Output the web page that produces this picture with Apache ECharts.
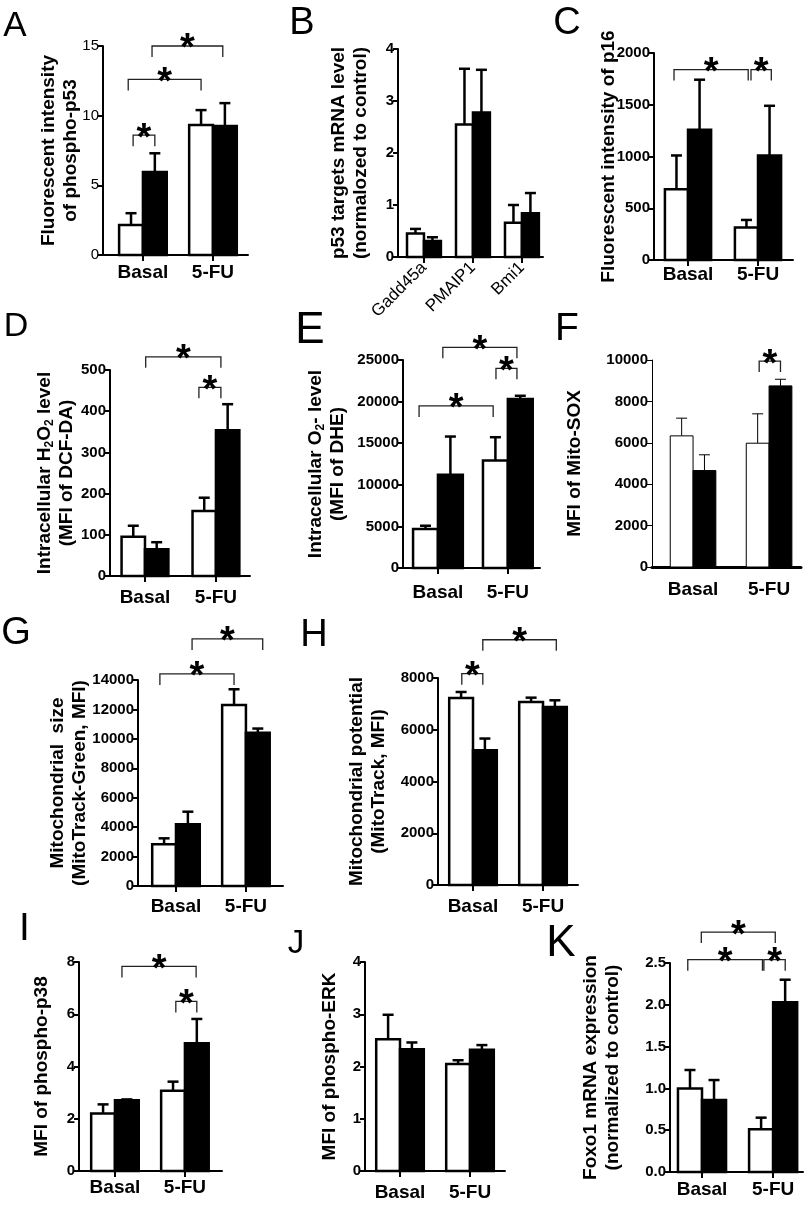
<!DOCTYPE html>
<html>
<head>
<meta charset="utf-8">
<title>p53 / ROS / mitochondria panels</title>
<script src="https://cdn.jsdelivr.net/npm/echarts@6/dist/echarts.min.js"></script>
<style>
  html, body { margin: 0; padding: 0; background: #fff; }
  #fig { width: 812px; height: 1211px; }
</style>
</head>
<body>
<div id="fig"></div>
<script>
// categories
const groups = ['Basal', '5-FU'];
const genes = ['Gadd45a', 'PMAIP1', 'Bmi1'];

// each *Mean / *Sem is [white bars, black bars], one value per category
// *Sig = significance brackets [x from, x to, y] in axis units

// A - phospho-p53
const p53Mean = [[2.15, 9.33], [5.96, 9.26]];
const p53Sem = [[0.85, 1.07], [1.34, 1.64]];
const p53Sig = [[0.86, 1.17, 8.6], [0.79, 1.83, 12.6], [1.13, 2.14, 15.0]];

// B - p53 targets mRNA
const targetsMean = [[0.45, 2.55, 0.66], [0.31, 2.78, 0.84]];
const targetsSem = [[0.09, 1.07, 0.34], [0.07, 0.82, 0.39]];
const targetsSig = [];

// C - p16
const p16Mean = [[684, 313], [1258, 1010]];
const p16Sem = [[326, 74], [484, 480]];
const p16Sig = [[0.8, 1.86, 1840], [1.9, 2.19, 1840]];

// D - H2O2
const h2o2Mean = [[95, 158], [65, 354]];
const h2o2Sem = [[27, 32], [17, 63]];
const h2o2Sig = [[1.01, 2.07, 532], [1.76, 2.07, 458]];

// E - O2-
const o2Mean = [[4680, 12920], [11200, 20300]];
const o2Sem = [[400, 2800], [4600, 400]];
const o2Sig = [[0.73, 1.79, 19480], [1.07, 2.13, 26520], [1.83, 2.13, 24000]];

// F - Mito-SOX
const soxMean = [[6335, 5980], [4660, 8750]];
const soxSem = [[855, 1420], [760, 320]];
const soxSig = [[1.87, 2.15, 9950]];

// G - mitochondrial size
const sizeMean = [[2830, 12300], [4190, 10420]];
const sizeSem = [[410, 1070], [860, 280]];
const sizeSig = [[0.77, 1.83, 14410], [1.23, 2.24, 16790]];

// H - mitochondrial potential
const potMean = [[7228, 7074], [5209, 6881]];
const potSem = [[232, 166], [451, 257]];
const potSig = [[0.84, 1.14, 8167], [1.14, 2.19, 9479]];

// I - phospho-p38
const p38Mean = [[2.2, 3.07], [2.71, 4.89]];
const p38Sem = [[0.35, 0.35], [0.03, 0.93]];
const p38Sig = [[1.1, 2.16, 7.83], [1.87, 2.17, 6.49]];

// J - phospho-ERK
const erkMean = [[2.52, 2.05], [2.33, 2.32]];
const erkSem = [[0.47, 0.07], [0.13, 0.09]];
const erkSig = [];

// K - Foxo1 mRNA
const foxoMean = [[1.0, 0.51], [0.86, 2.03]];
const foxoSem = [[0.22, 0.14], [0.24, 0.27]];
const foxoSig = [[0.8, 1.85, 2.54], [0.99, 2.03, 2.87], [1.87, 2.17, 2.54]];

const FONT = '"Liberation Sans", Arial, sans-serif';

// layout of each panel (pixels) + axis ranges
const panels = [
  {tag: 'A', tx: 15, ty: 26, ts: 35, left: 103, top: 46, right: 248, bottom: 255, xMin: 0.43, xMax: 2.5, hw: 0.17,
    cats: groups, mean: p53Mean, sem: p53Sem, sig: p53Sig, yMax: 15, step: 5, tickBold: false,
    title: 'Fluorescent intensity\nof phospho-p53', gap: 21.5, margin: 8},
  {tag: 'B', tx: 302, ty: 24, ts: 38, left: 398, top: 49, right: 543, bottom: 257, xMin: 0.47, xMax: 3.43, hw: 0.173,
    cats: genes, mean: targetsMean, sem: targetsSem, sig: targetsSig, yMax: 4, step: 1, rotate: 45,
    title: 'p53 targets mRNA level\n(normalozed to control)', gap: 26.5, margin: 8},
  {tag: 'C', tx: 567, ty: 24, ts: 38, left: 654, top: 53, right: 793, bottom: 260, xMin: 0.514, xMax: 2.5, hw: 0.165,
    cats: groups, mean: p16Mean, sem: p16Sem, sig: p16Sig, yMax: 2000, step: 500,
    title: 'Fluorescent intensity of p16', gap: 34, margin: 5},
  {tag: 'D', tx: 16, ty: 327, ts: 34, left: 110, top: 370, right: 250, bottom: 576, xMin: 0.507, xMax: 2.48, hw: 0.165,
    cats: groups, mean: h2o2Mean, sem: h2o2Sem, sig: h2o2Sig, yMax: 500, step: 100,
    title: '{t|Intracellular H}{s|2}{t|O}{s|2}{t| level}\n{t|(MFI of DCF-DA)}', gap: 32.5, margin: 12},
  {tag: 'E', tx: 310, ty: 331, ts: 44, left: 403, top: 360, right: 540, bottom: 568, xMin: 0.5, xMax: 2.46, hw: 0.178,
    cats: groups, mean: o2Mean, sem: o2Sem, sig: o2Sig, yMax: 25000, step: 5000,
    title: '{t|Intracellular O}{s|2}{t|- level}\n{t|(MFI of DHE)}', gap: 54.5, margin: 15},
  {tag: 'F', tx: 567, ty: 329, ts: 39, left: 652, top: 360, right: 801, bottom: 567, xMin: 0.46, xMax: 2.42, hw: 0.15,
    cats: groups, mean: soxMean, sem: soxSem, sig: soxSig, yMax: 10000, step: 2000, thin: true,
    title: 'MFI of Mito-SOX', gap: 66, margin: 13},
  {tag: 'G', tx: 16, ty: 634, ts: 38, left: 138, top: 680, right: 283, bottom: 886, xMin: 0.457, xMax: 2.53, hw: 0.17,
    cats: groups, mean: sizeMean, sem: sizeSem, sig: sizeSig, yMax: 14000, step: 2000,
    title: 'Mitochondrial  size\n(MitoTrack-Green, MFI)', gap: 47.5, margin: 11},
  {tag: 'H', tx: 314, ty: 636, ts: 38, left: 438, top: 678, right: 578, bottom: 885, xMin: 0.5, xMax: 2.5, hw: 0.17,
    cats: groups, mean: potMean, sem: potSem, sig: potSig, yMax: 8000, step: 2000,
    title: 'Mitochondrial potential\n(MitoTrack, MFI)', gap: 48.5, margin: 12},
  {tag: 'I', tx: 24.5, ty: 929, ts: 39, left: 79, top: 962, right: 222, bottom: 1171, xMin: 0.486, xMax: 2.53, hw: 0.17,
    cats: groups, mean: p38Mean, sem: p38Sem, sig: p38Sig, yMax: 8, step: 2,
    title: 'MFI of phospho-p38', gap: 26, margin: 7},
  {tag: 'J', tx: 296, ty: 944, ts: 33, left: 365, top: 962, right: 505, bottom: 1171, xMin: 0.5, xMax: 2.5, hw: 0.17,
    cats: groups, mean: erkMean, sem: erkSem, sig: erkSig, yMax: 4, step: 1,
    title: 'MFI of phospho-ERK', gap: 24, margin: 12},
  {tag: 'K', tx: 561, ty: 944, ts: 44, left: 670, top: 963, right: 803, bottom: 1172, xMin: 0.55, xMax: 2.42, hw: 0.169,
    cats: groups, mean: foxoMean, sem: foxoSem, sig: foxoSig, yMax: 2.5, step: 0.5, decimals: 1,
    title: 'Foxo1 mRNA expression\n(normalized to control)', gap: 46, margin: 8}
];

const titleRich = {
  t: {fontFamily: FONT, fontWeight: 'bold', fontSize: 19, lineHeight: 22, color: '#000'},
  s: {fontFamily: FONT, fontWeight: 'bold', fontSize: 12, lineHeight: 12, verticalAlign: 'bottom', color: '#000'}
};

function barRenderer(p) {
  return function (params, api) {
    const x = api.value(0), v = api.value(1), e = api.value(2), dark = api.value(3);
    const lo = api.coord([x - p.hw, 0]);
    const hi = api.coord([x + p.hw, v]);
    const mid = api.coord([x, v]);
    const top = api.coord([x, v + e]);
    const lw = p.thin ? 1 : 2.5;
    const cap = 5.5;
    return {
      type: 'group',
      children: [
        {type: 'line', shape: {x1: mid[0], y1: mid[1], x2: top[0], y2: top[1]}, style: {stroke: '#000', lineWidth: lw}},
        {type: 'line', shape: {x1: top[0] - cap, y1: top[1], x2: top[0] + cap, y2: top[1]}, style: {stroke: '#000', lineWidth: lw}},
        {type: 'rect', shape: {x: lo[0], y: hi[1], width: hi[0] - lo[0], height: lo[1] - hi[1]},
          style: {fill: dark ? '#000' : '#fff', stroke: '#000', lineWidth: lw}}
      ]
    };
  };
}

function bracketRenderer(params, api) {
  const a = api.coord([api.value(0), api.value(2)]);
  const b = api.coord([api.value(1), api.value(2)]);
  const drop = 11;
  return {
    type: 'group',
    children: [
      {type: 'polyline', shape: {points: [[a[0], a[1] + drop], [a[0], a[1]], [b[0], b[1]], [b[0], b[1] + drop]]},
        style: {stroke: '#222', lineWidth: 1.3, fill: 'none'}},
      {type: 'text', x: (a[0] + b[0]) / 2, y: a[1] + 4,
        style: {text: '*', fontFamily: FONT, fontWeight: 'bold', fontSize: 38, fill: '#000', align: 'center', verticalAlign: 'middle'}}
    ]
  };
}

const grid = [], xAxis = [], yAxis = [], series = [], graphic = [];

panels.forEach(function (p, i) {
  grid.push({left: p.left, top: p.top, width: p.right - p.left, height: p.bottom - p.top,
    containLabel: false, outerBoundsMode: 'none'});

  const catPos = p.cats.map((c, k) => k + 1);
  xAxis.push({
    gridIndex: i, type: 'value', min: p.xMin, max: p.xMax,
    axisLine: {show: true, onZero: false, lineStyle: {color: '#000', width: p.thin ? 3 : 2}},
    axisTick: {show: !p.thin, customValues: catPos, length: 6, lineStyle: {color: '#000', width: 2}},
    axisLabel: {
      customValues: catPos,
      formatter: v => p.cats[Math.round(v) - 1],
      rotate: p.rotate || 0,
      fontFamily: FONT, fontWeight: p.rotate ? 'normal' : 'bold', fontSize: p.rotate ? 17 : 19,
      color: '#000', margin: p.margin
    },
    splitLine: {show: false}
  });

  yAxis.push({
    gridIndex: i, type: 'value', min: 0, max: p.yMax, interval: p.step,
    axisLine: {show: true, onZero: false, lineStyle: {color: '#000', width: p.thin ? 1 : 2}},
    axisTick: {show: true, length: 5, lineStyle: {color: '#000', width: p.thin ? 1 : 2}},
    axisLabel: {
      fontFamily: FONT, fontWeight: p.tickBold === false ? 'normal' : 'bold',
      fontSize: 15, color: '#000', margin: 4,
      formatter: v => p.decimals ? v.toFixed(p.decimals) : String(v)
    },
    splitLine: {show: false},
    name: p.title, nameLocation: 'middle', nameRotate: 90, nameGap: p.gap, nameMoveOverlap: false,
    nameTextStyle: {fontFamily: FONT, fontWeight: 'bold', fontSize: 19, lineHeight: 22, color: '#000', rich: titleRich}
  });

  const bars = [];
  [0, 1].forEach(function (g) {
    p.cats.forEach(function (c, k) {
      bars.push([k + 1 + (g ? p.hw : -p.hw), p.mean[g][k], p.sem[g][k], g]);
    });
  });
  series.push({
    type: 'custom', coordinateSystem: 'cartesian2d', xAxisIndex: i, yAxisIndex: i,
    encode: {x: 0, y: 1}, clip: false, silent: true, animation: false,
    data: bars, renderItem: barRenderer(p)
  });
  if (p.sig.length) {
    series.push({
      type: 'custom', coordinateSystem: 'cartesian2d', xAxisIndex: i, yAxisIndex: i,
      encode: {x: [0, 1], y: 2}, clip: false, silent: true, animation: false, z: 3,
      data: p.sig, renderItem: bracketRenderer
    });
  }

  graphic.push({type: 'text', x: p.tx, y: p.ty, silent: true,
    style: {text: p.tag, fontFamily: FONT, fontSize: p.ts, fill: '#000', align: 'center', verticalAlign: 'middle'}});
});

const chart = echarts.init(document.getElementById('fig'), null, {renderer: 'canvas'});
chart.setOption({
  animation: false,
  backgroundColor: '#fff',
  grid: grid,
  xAxis: xAxis,
  yAxis: yAxis,
  series: series,
  graphic: graphic
});
</script>
</body>
</html>
